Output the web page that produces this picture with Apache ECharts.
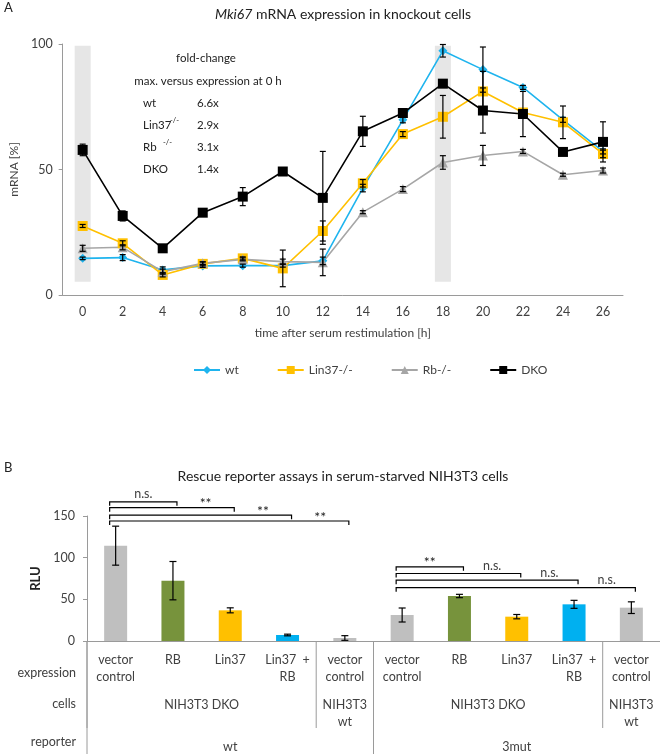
<!DOCTYPE html>
<html>
<head>
<meta charset="utf-8">
<script src="https://cdn.jsdelivr.net/npm/echarts@6/dist/echarts.min.js"></script>
<style>
  html, body { margin: 0; padding: 0; background: #fff; }
  #chart { width: 660px; height: 754px; }
</style>
</head>
<body>
<div id="chart"></div>
<script>
// ---- panel A: Mki67 mRNA after serum restimulation ----
const hours = ['0', '2', '4', '6', '8', '10', '12', '14', '16', '18', '20', '22', '24', '26'];
const wt       = [14.6, 14.9, 10.0, 11.6, 11.7, 11.7, 13.6, 42.6, 69.8, 97.3, 89.8, 82.7, 69.8, 57.2];
const wtErr    = [0.5, 1.2, 1.2, 0.6, 0.6, 0.6, 1.5, 1.5, 1.2, 2.5, 9, 0.8, 1, 1];
const lin37    = [27.5, 20.6, 8.0, 12.4, 14.6, 10.6, 25.5, 44.5, 64.1, 71.0, 81.1, 72.7, 68.8, 56.2];
const lin37Err = [0.6, 1, 0.8, 0.8, 0.6, 7.3, 4, 1.5, 1, 8.5, 8, 1, 6.5, 1.5];
const rb       = [18.6, 19.0, 9.3, 12.6, 14.2, 13.3, 13.0, 33.0, 42.2, 52.8, 55.6, 57.2, 47.9, 49.6];
const rbErr    = [1.2, 1, 1, 0.6, 0.6, 1, 5.3, 0.6, 1, 2.7, 4, 0.8, 0.6, 1];
const dko      = [57.8, 31.5, 18.6, 32.8, 39.2, 49.2, 38.7, 65.2, 72.5, 84.2, 73.5, 72.1, 57.0, 61.0];
const dkoErr   = [2.3, 2, 0.6, 0.8, 3.6, 0.8, 18.5, 6, 1.5, 1, 9, 9, 0.8, 8];
const bandHours = [0, 9];           // category indices of the shaded columns (0 h, 18 h)
const bandRange = [5.3, 99.3];

const foldNames  = ['wt', 'Lin37', 'Rb', 'DKO'];
const foldSup    = ['', '-/-', '-/-', ''];
const foldValues = ['6.6x', '2.9x', '3.1x', '1.4x'];

// ---- panel B: rescue reporter assays ----
const expression = ['vector\ncontrol', 'RB', 'Lin37', 'Lin37  +\nRB', 'vector\ncontrol',
                    'vector\ncontrol', 'RB', 'Lin37', 'Lin37  +\nRB', 'vector\ncontrol'];
const rlu    = [114.4, 72.4, 36.8, 7.2, 3.6, 31.2, 54.0, 29.2, 44.0, 40.0];
const rluErr = [23.4, 23, 3, 1, 2.8, 8.4, 2, 2.6, 4.8, 7];
const cellGroups     = [[0, 3, 'NIH3T3 DKO'], [4, 4, 'NIH3T3\nwt'], [5, 8, 'NIH3T3 DKO'], [9, 9, 'NIH3T3\nwt']];
const reporterGroups = [[0, 4, 'wt'], [5, 9, '3mut']];
const rowNames = ['expression', 'cells', 'reporter'];
// [from, to, y (RLU), label]
const brackets = [
  [0, 1, 167, 'n.s.'], [0, 2, 160, '**'], [0, 3, 151, '**'], [0, 4, 144, '**'],
  [5, 6, 89, '**'], [5, 7, 81, 'n.s.'], [5, 8, 73, 'n.s.'], [5, 9, 64, 'n.s.']
];

const FONT = 'Lato';
const TXT = '#404040';
const AXIS = '#9a9a9a';
const exprColor = { 'vector\ncontrol': '#BFBFBF', 'RB': '#77933C', 'Lin37': '#FFC000', 'Lin37  +\nRB': '#00B0F0' };

const chart = echarts.init(document.getElementById('chart'));

function errorBar(cap) {
  return function (params, api) {
    const x = api.value(0);
    const lo = api.coord([x, api.value(1)]);
    const hi = api.coord([x, api.value(2)]);
    const st = { stroke: '#000', lineWidth: 1.2 };
    return {
      type: 'group',
      children: [
        { type: 'line', shape: { x1: hi[0], y1: hi[1], x2: lo[0], y2: lo[1] }, style: st },
        { type: 'line', shape: { x1: hi[0] - cap, y1: hi[1], x2: hi[0] + cap, y2: hi[1] }, style: st },
        { type: 'line', shape: { x1: lo[0] - cap, y1: lo[1], x2: lo[0] + cap, y2: lo[1] }, style: st }
      ]
    };
  };
}

const errA = [];
[[wt, wtErr], [lin37, lin37Err], [rb, rbErr], [dko, dkoErr]].forEach(([v, e]) => {
  v.forEach((y, i) => errA.push([i, y - e[i], y + e[i]]));
});

// group rows under the bar chart (cells / reporter)
function groupRow(groups, textTop, lineLen) {
  return function (params, api) {
    const g = groups[params.dataIndex];
    const bw = api.size([1, 0])[0];
    const axisY = api.coord([0, 0])[1];
    const x1 = api.coord([g[0], 0])[0] - bw / 2;
    const x2 = api.coord([g[1], 0])[0] + bw / 2;
    return {
      type: 'group',
      children: [
        { type: 'line', shape: { x1: x1, y1: axisY, x2: x1, y2: axisY + lineLen }, style: { stroke: AXIS, lineWidth: 1 } },
        { type: 'text', x: (x1 + x2) / 2, y: axisY + textTop,
          style: { text: g[2], fill: TXT, font: '12.5px ' + FONT, align: 'center', verticalAlign: 'top', lineHeight: 17 } }
      ]
    };
  };
}

function bracketItem(params, api) {
  const b = brackets[params.dataIndex];
  const xa = api.coord([b[0], 0])[0] - 6;
  const xb = api.coord([b[1], 0])[0] + 4;
  const y = api.coord([b[0], b[2]])[1];
  let lx;
  if (b[1] - b[0] === 1) lx = (xa + xb) / 2;
  else lx = (api.coord([b[1] - 1, 0])[0] + api.coord([b[1], 0])[0]) / 2 + 4;
  const st = { stroke: '#000', lineWidth: 1.2 };
  const star = b[3] === '**';
  return {
    type: 'group',
    children: [
      { type: 'polyline', shape: { points: [[xa, y + 4], [xa, y], [xb, y], [xb, y + 4]] }, style: Object.assign({ fill: null }, st) },
      { type: 'text', x: lx, y: y + (star ? 3 : -1),
        style: { text: b[3], fill: star ? '#222' : TXT, font: (star ? '14px ' : '12.5px ') + FONT, align: 'center', verticalAlign: 'bottom' } }
    ]
  };
}

const graphic = [
  { type: 'text', left: 4, top: 1, style: { text: 'A', fill: '#222', font: '13px ' + FONT } },
  { type: 'text', left: 4, top: 461, style: { text: 'B', fill: '#222', font: '13px ' + FONT } },
  { type: 'text', x: 206, y: 58, style: { text: 'fold-change', fill: '#222', font: '11.5px ' + FONT, align: 'center', verticalAlign: 'middle' } },
  { type: 'text', x: 208, y: 81, style: { text: 'max. versus expression at 0 h', fill: '#222', font: '11.5px ' + FONT, align: 'center', verticalAlign: 'middle' } }
];
const foldSupX = [0, 170, 163, 0];
foldNames.forEach((n, i) => {
  const y = 103 + i * 22;
  graphic.push({ type: 'text', x: 143, y: y, style: { text: n, fill: '#222', font: '11.5px ' + FONT, verticalAlign: 'middle' } });
  if (foldSup[i]) graphic.push({ type: 'text', x: foldSupX[i], y: y - 4, style: { text: foldSup[i], fill: '#222', font: '7.5px ' + FONT, verticalAlign: 'middle' } });
  graphic.push({ type: 'text', x: 197, y: y, style: { text: foldValues[i], fill: '#222', font: '11.5px ' + FONT, verticalAlign: 'middle' } });
});
const rowY = [673, 704, 742];
rowNames.forEach((n, i) => {
  graphic.push({ type: 'text', x: 76, y: rowY[i], style: { text: n, fill: TXT, font: '12.5px ' + FONT, align: 'right', verticalAlign: 'middle' } });
});

const option = {
  animation: false,
  textStyle: { fontFamily: FONT },
  title: [
    { text: '{i|Mki67} mRNA expression in knockout cells', left: 338, top: 2, textAlign: 'center',
      textStyle: { fontSize: 14, fontWeight: 'normal', color: '#222', rich: { i: { fontSize: 14, fontStyle: 'italic', color: '#222' } } } },
    { text: 'Rescue reporter assays in serum-starved NIH3T3 cells', left: 338, top: 464, textAlign: 'center',
      textStyle: { fontSize: 14, fontWeight: 'normal', color: '#222' } }
  ],
  graphic: graphic,
  legend: {
    data: ['wt', 'Lin37-/-', 'Rb-/-', 'DKO'],
    left: 188, top: 359, itemWidth: 26, itemHeight: 10, itemGap: 38,
    textStyle: { fontSize: 12, color: TXT }
  },
  grid: [
    { left: 52, top: 44, width: 571, height: 251 },
    { left: 87, top: 516, width: 573, height: 125 }
  ],
  xAxis: [
    { gridIndex: 0, type: 'category', data: hours, boundaryGap: true,
      name: 'time after serum restimulation [h]', nameLocation: 'middle', nameGap: 32,
      nameTextStyle: { fontSize: 12, color: TXT, verticalAlign: 'top' },
      axisLine: { lineStyle: { color: AXIS } },
      axisTick: { interval: 0, length: 4, lineStyle: { color: AXIS } },
      axisLabel: { interval: 0, margin: 10, fontSize: 12.5, color: TXT } },
    { gridIndex: 1, type: 'category', data: expression, boundaryGap: true,
      axisLine: { lineStyle: { color: AXIS } },
      axisTick: { interval: 0, length: 43, lineStyle: { color: AXIS } },
      axisLabel: { interval: 0, margin: 10, fontSize: 12.5, lineHeight: 17, color: TXT } }
  ],
  yAxis: [
    { gridIndex: 0, type: 'value', min: 0, max: 100, interval: 50,
      name: 'mRNA [%]', nameLocation: 'middle', nameGap: 25, nameRotate: 90,
      nameTextStyle: { fontSize: 12, color: TXT },
      axisLine: { show: true, lineStyle: { color: AXIS } },
      axisTick: { show: true, length: 4, lineStyle: { color: AXIS } },
      axisLabel: { margin: 10, fontSize: 12.5, color: TXT },
      splitLine: { show: false } },
    { gridIndex: 1, type: 'value', min: 0, max: 150, interval: 50,
      name: 'RLU', nameLocation: 'middle', nameGap: 39, nameRotate: 90,
      nameTextStyle: { fontSize: 13, fontWeight: 'bold', color: '#222' },
      axisLine: { show: true, lineStyle: { color: AXIS } },
      axisTick: { show: true, length: 4, lineStyle: { color: AXIS } },
      axisLabel: { margin: 12, fontSize: 12.5, color: TXT },
      splitLine: { show: false } }
  ],
  series: [
    { type: 'custom', name: 'band', xAxisIndex: 0, yAxisIndex: 0, z: 0, silent: true,
      data: bandHours.map(i => [i, bandRange[0], bandRange[1]]),
      renderItem: (params, api) => {
        const lo = api.coord([api.value(0), api.value(1)]);
        const hi = api.coord([api.value(0), api.value(2)]);
        return { type: 'rect', shape: { x: hi[0] - 8, y: hi[1], width: 16, height: lo[1] - hi[1] }, style: { fill: '#E6E6E6' } };
      } },
    { type: 'line', name: 'wt', xAxisIndex: 0, yAxisIndex: 0, data: wt, z: 3,
      symbol: 'diamond', symbolSize: 9, color: '#1FB4EE',
      lineStyle: { width: 1.6 }, itemStyle: { color: '#1FB4EE' } },
    { type: 'line', name: 'Lin37-/-', xAxisIndex: 0, yAxisIndex: 0, data: lin37, z: 3,
      symbol: 'rect', symbolSize: 10, color: '#FFC000',
      lineStyle: { width: 1.6 }, itemStyle: { color: '#FFC000' } },
    { type: 'line', name: 'Rb-/-', xAxisIndex: 0, yAxisIndex: 0, data: rb, z: 3,
      symbol: 'triangle', symbolSize: 10, color: '#A6A6A6',
      lineStyle: { width: 1.6 }, itemStyle: { color: '#A6A6A6' } },
    { type: 'line', name: 'DKO', xAxisIndex: 0, yAxisIndex: 0, data: dko, z: 3,
      symbol: 'rect', symbolSize: 10, color: '#000',
      lineStyle: { width: 1.6 }, itemStyle: { color: '#000' } },
    { type: 'custom', name: 'errA', xAxisIndex: 0, yAxisIndex: 0, z: 4, silent: true,
      data: errA, renderItem: errorBar(3) },

    { type: 'bar', name: 'RLU', xAxisIndex: 1, yAxisIndex: 1, data: rlu, barWidth: 23,
      itemStyle: { color: p => exprColor[expression[p.dataIndex]] } },
    { type: 'custom', name: 'errB', xAxisIndex: 1, yAxisIndex: 1, z: 4, silent: true,
      data: rlu.map((v, i) => [i, v - rluErr[i], v + rluErr[i]]), renderItem: errorBar(3.5) },
    { type: 'custom', name: 'brackets', xAxisIndex: 1, yAxisIndex: 1, clip: false, silent: true,
      data: brackets.map(b => [b[0], b[2]]), renderItem: bracketItem },
    { type: 'custom', name: 'cells', xAxisIndex: 1, yAxisIndex: 1, clip: false, silent: true,
      data: cellGroups.map(g => [g[0], 0]), renderItem: groupRow(cellGroups, 55, 87) },
    { type: 'custom', name: 'reporter', xAxisIndex: 1, yAxisIndex: 1, clip: false, silent: true,
      data: reporterGroups.map(g => [g[0], 0]), renderItem: groupRow(reporterGroups, 97, 113) }
  ]
};

chart.setOption(option);
</script>
</body>
</html>
